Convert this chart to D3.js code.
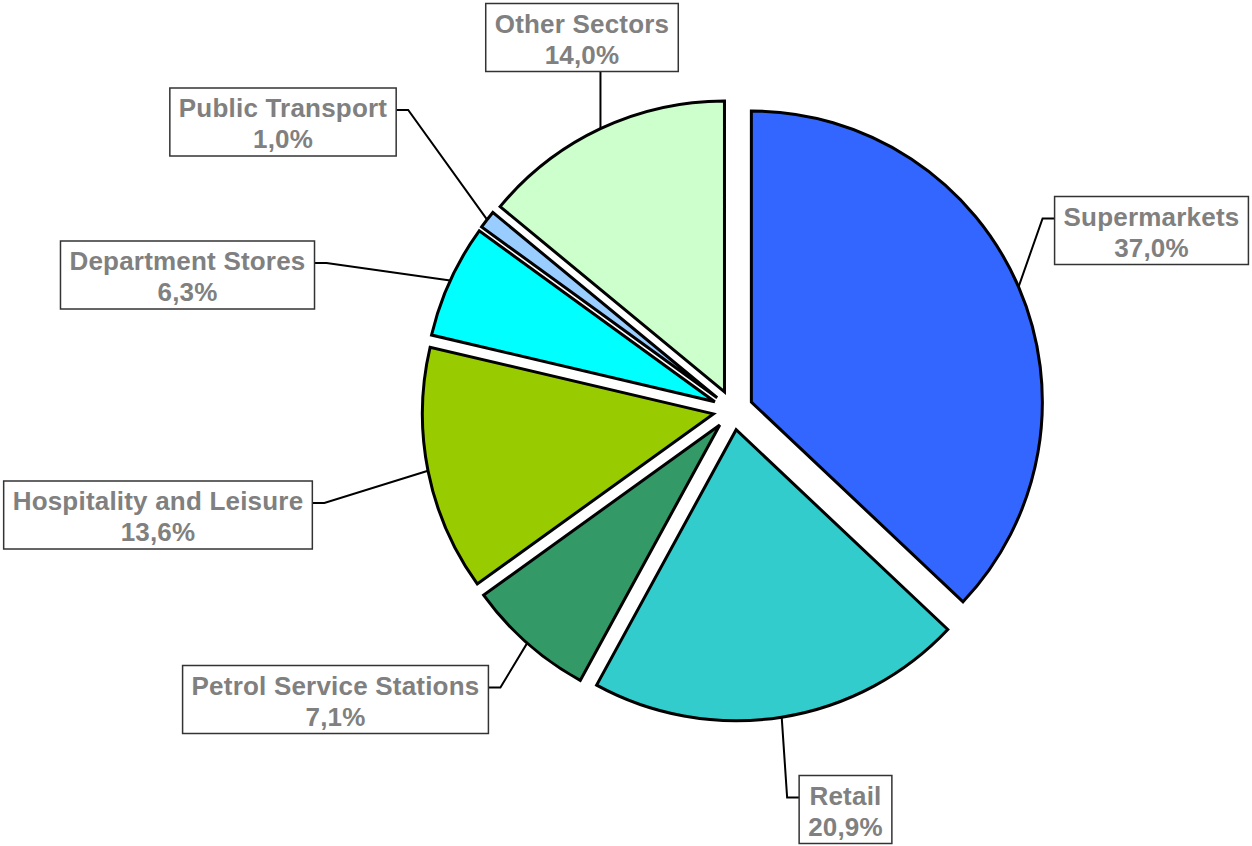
<!DOCTYPE html>
<html>
<head>
<meta charset="utf-8">
<script src="https://cdn.jsdelivr.net/npm/d3@7"></script>
<style>
  body { margin: 0; background: #fff; }
  svg { display: block; }
  .lbl { font-family: "Liberation Sans", Arial, sans-serif; font-weight: bold; font-size: 26px; letter-spacing: 0.2px; fill: #808080; }
</style>
</head>
<body>
<svg width="1252" height="846"></svg>
<script>
// data
var sectors = ["Supermarkets", "Retail", "Petrol Service Stations", "Hospitality and Leisure",
               "Department Stores", "Public Transport", "Other Sectors"];
var shares = [37.0, 20.9, 7.1, 13.6, 6.3, 1.0, 14.0];
var colors = ["#3366FF", "#33CCCC", "#339966", "#99CC00", "#00FFFF", "#99CCFF", "#CCFFCC"];

// label box centres (layout, placed by hand like in the original)
var labelPos = [[1151.5, 230.5], [845.5, 809.5], [335.5, 699.5], [158, 515],
                [187.5, 275], [283, 122], [582, 37.5]];

var svg = d3.select("svg");
var cx = 733, cy = 410, radius = 291, explode = 20;

var pie = d3.pie().sort(null).value(function (d) { return d; });
var arc = d3.arc().innerRadius(0).outerRadius(radius);
var arcs = pie(shares);

function dir(a) { return [Math.sin(a), -Math.cos(a)]; }

var g = svg.append("g").attr("transform", "translate(" + cx + "," + cy + ")");

g.selectAll("path")
  .data(arcs)
  .enter().append("path")
    .attr("d", arc)
    .attr("fill", function (d, i) { return colors[i]; })
    .attr("stroke", "#000")
    .attr("stroke-width", 3)
    .attr("stroke-linejoin", "miter")
    .attr("transform", function (d) {
      var m = dir((d.startAngle + d.endAngle) / 2);
      return "translate(" + m[0] * explode + "," + m[1] * explode + ")";
    });

var fmt = function (v) { return v.toFixed(1).replace(".", ",") + "%"; };

// labels + leader lines
arcs.forEach(function (d, i) {
  var mid = (d.startAngle + d.endAngle) / 2;
  var m = dir(mid);
  var px = cx + m[0] * (explode + radius), py = cy + m[1] * (explode + radius);

  var lg = svg.append("g");
  var t = lg.append("text").attr("class", "lbl").attr("text-anchor", "middle")
    .attr("x", labelPos[i][0]);
  t.append("tspan").attr("x", labelPos[i][0]).attr("y", labelPos[i][1] - 5).text(sectors[i]);
  t.append("tspan").attr("x", labelPos[i][0]).attr("y", labelPos[i][1] + 26).text(fmt(shares[i]));

  var w = 0;
  t.selectAll("tspan").each(function () { w = Math.max(w, this.getComputedTextLength()); });
  var bw = w + 18, bh = 68;
  var bx = labelPos[i][0] - bw / 2, by = labelPos[i][1] - bh / 2;

  lg.insert("rect", "text")
    .attr("x", bx).attr("y", by).attr("width", bw).attr("height", bh)
    .attr("fill", "#fff").attr("stroke", "#333").attr("stroke-width", 1.5);

  var pts;
  if (py > by + bh + 10 && px > bx && px < bx + bw) {
    pts = [[px, by + bh], [px, py]];
  } else if (px < bx) {
    pts = [[bx, by + 22], [bx - 12, by + 22], [px, py]];
  } else {
    pts = [[bx + bw, by + 22], [bx + bw + 12, by + 22], [px, py]];
  }
  svg.insert("path", "g")
    .attr("d", d3.line()(pts))
    .attr("fill", "none").attr("stroke", "#000").attr("stroke-width", 2);
});
</script>
</body>
</html>
